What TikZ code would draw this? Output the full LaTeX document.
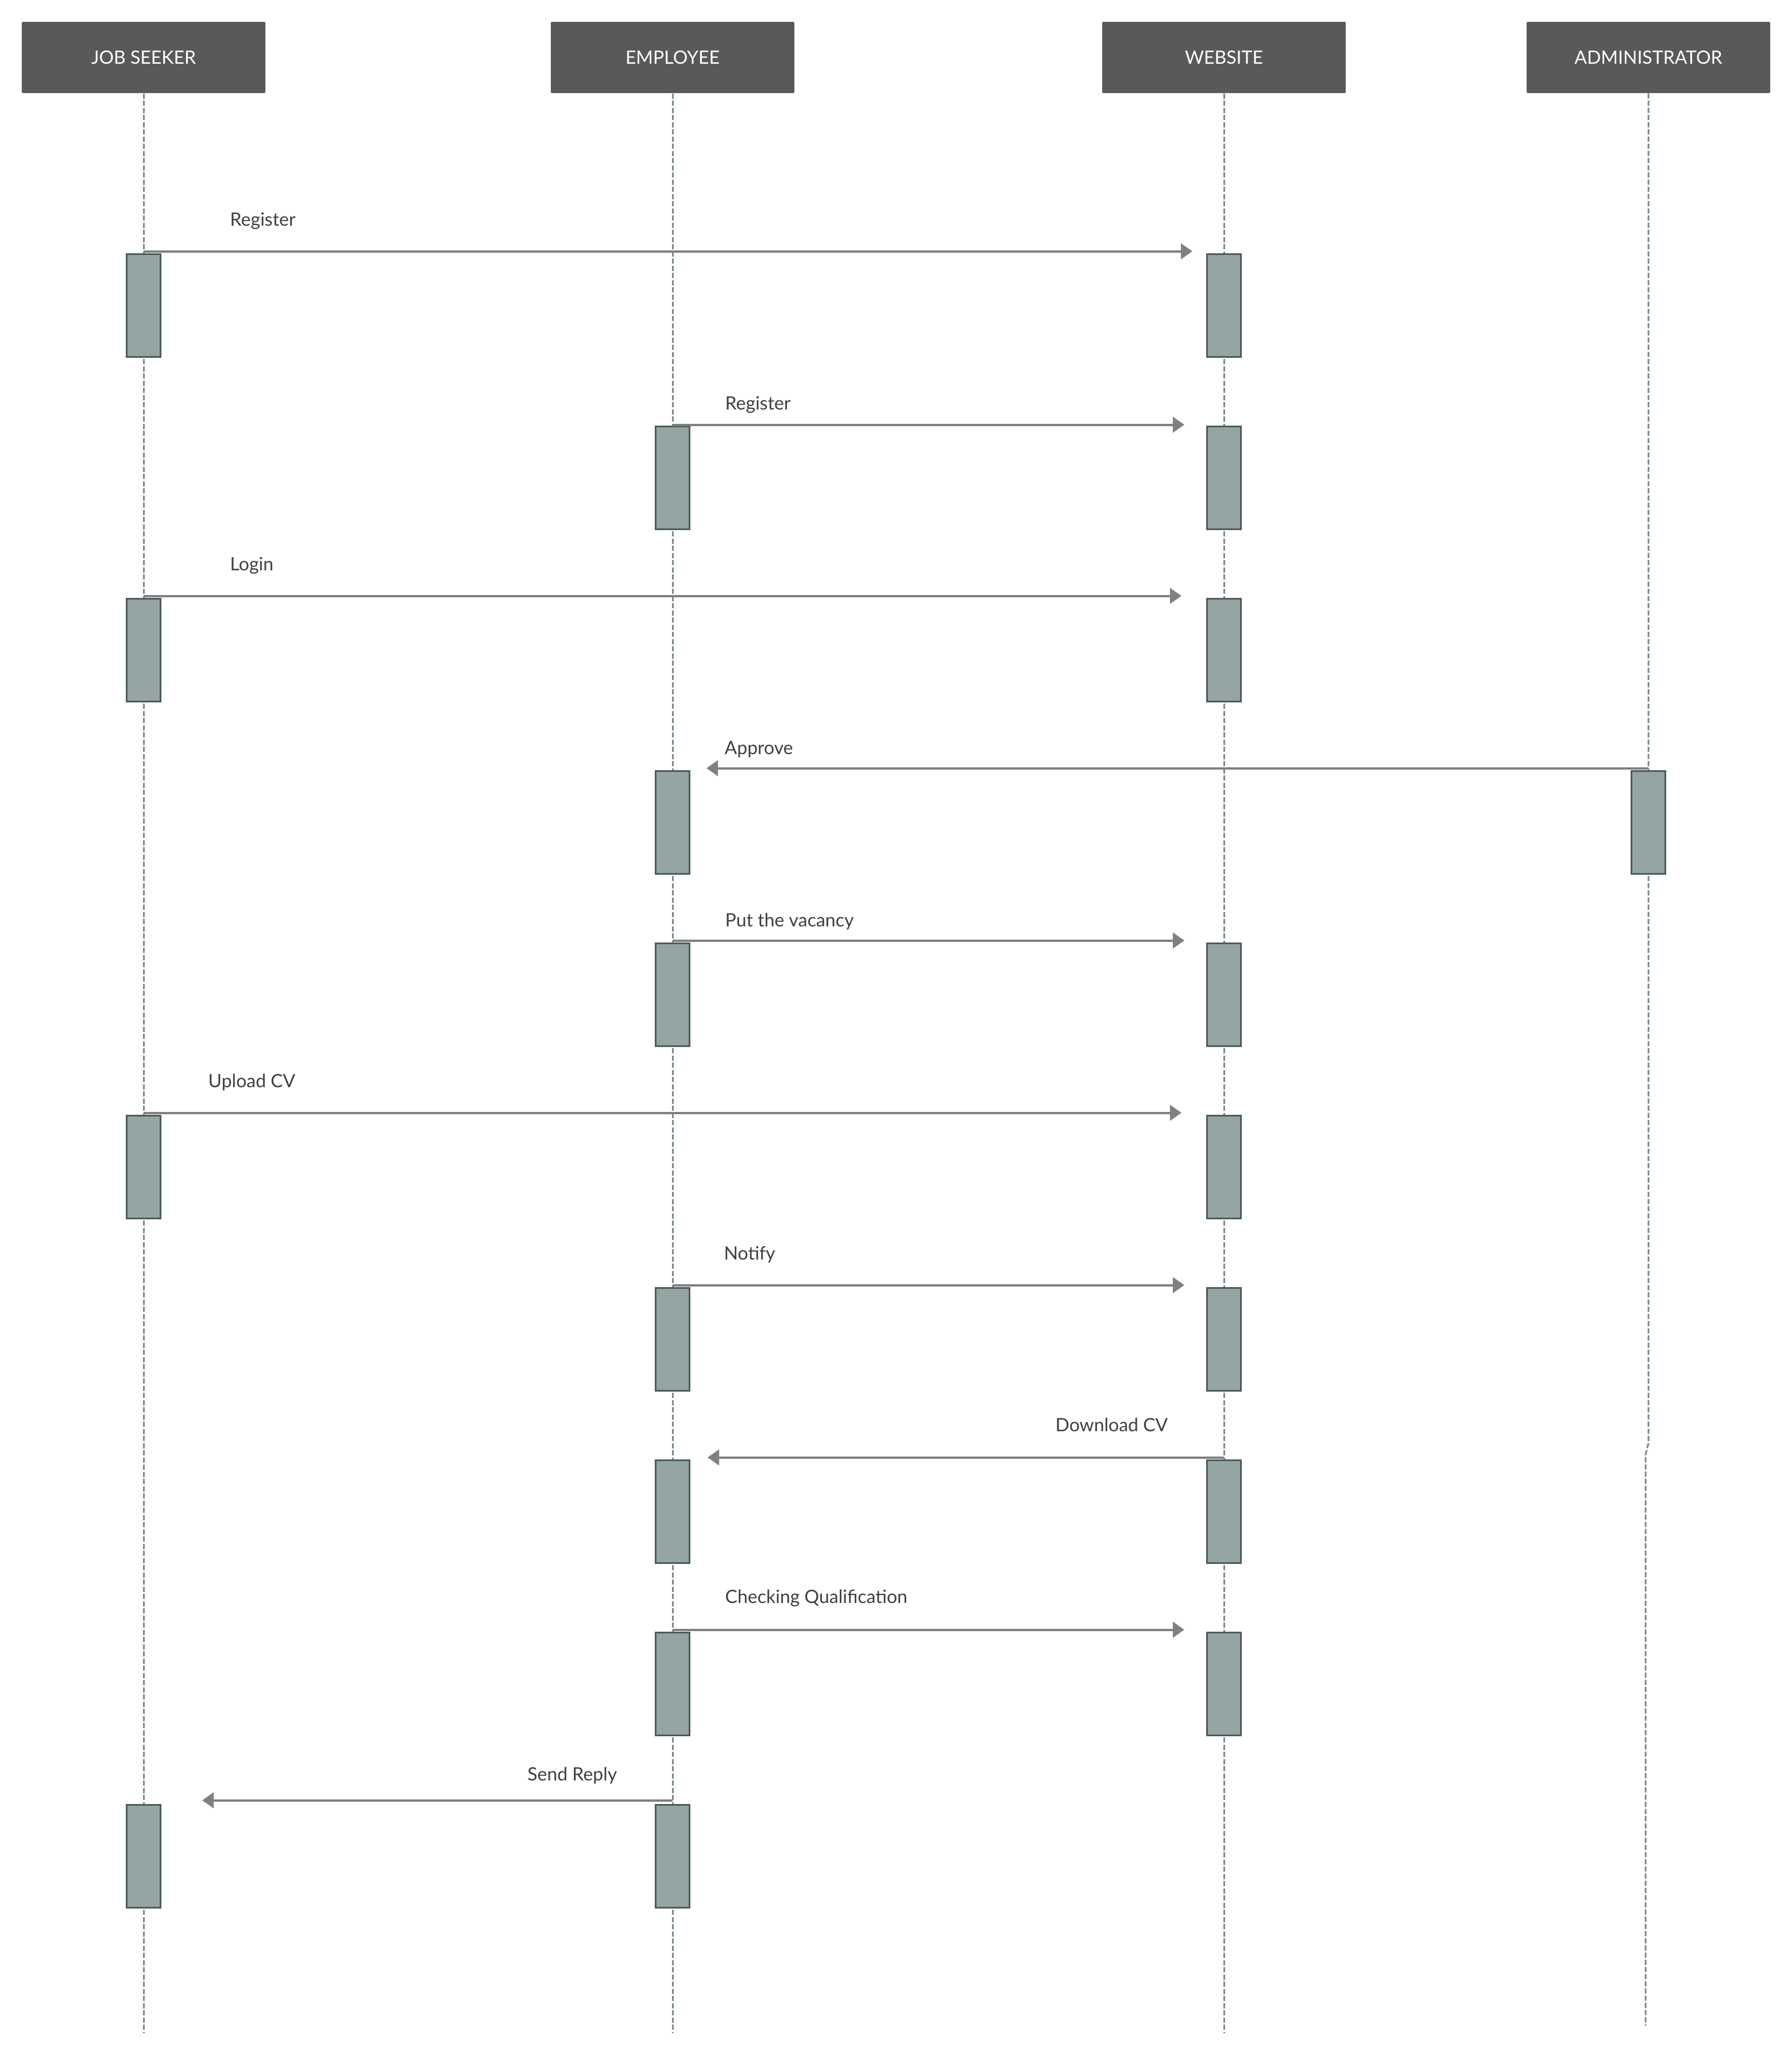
\documentclass[tikz,border=0pt]{standalone}
\usepackage{fontspec}
\setmainfont{Lato}
\usetikzlibrary{arrows.meta}
\definecolor{headgray}{HTML}{5B5957}
\definecolor{lifegray}{HTML}{7A8B8B}
\definecolor{barfill}{HTML}{95A5A3}
\definecolor{barline}{HTML}{4B5C5B}
\definecolor{msggray}{HTML}{808080}
\definecolor{lblgray}{HTML}{3F3F3F}

\begin{document}
\begin{tikzpicture}[
  head/.style={fill=headgray, text=white, minimum width=4.24cm, minimum height=1.24cm,
    inner sep=0pt, rounded corners=0.02cm, font=\fontsize{9.1}{11}\selectfont},
  life/.style={draw=lifegray, line width=0.03cm, dash pattern=on 0.09cm off 0.035cm},
  bar/.style={draw=barline, fill=barfill, line width=0.036cm, minimum width=0.59cm,
    minimum height=1.79cm, inner sep=0pt, anchor=north},
  msg/.style={draw=msggray, line width=0.04cm, -{Triangle[length=0.2cm,width=0.27cm]}},
  lbl/.style={text=lblgray, inner sep=0pt, font=\fontsize{9.1}{11}\selectfont}
]
   \useasboundingbox (0,0) rectangle (31.20,-35.78);

   % heads
   \node[head] (seeker) at (2.50,-1.00) {JOB SEEKER};
   \node[head] (employee) at (11.71,-1.00) {EMPLOYEE};
   \node[head] (website) at (21.31,-1.00) {WEBSITE};
   \node[head] (admin) at (28.70,-1.00) {ADMINISTRATOR};

   % lifelines
   \coordinate (seekerEnd) at (2.50,-35.40);
   \coordinate (employeeEnd) at (11.71,-35.40);
   \coordinate (websiteEnd) at (21.31,-35.40);
   \coordinate (adminBend) at (28.70,-25.13);
   \coordinate (adminStep) at (28.65,-25.33);
   \coordinate (adminEnd) at (28.65,-35.27);
   \draw[life] (seeker.south) -- (seekerEnd);
   \draw[life] (employee.south) -- (employeeEnd);
   \draw[life] (website.south) -- (websiteEnd);
   \draw[life] (admin.south) -- (adminBend) -- (adminStep) -- (adminEnd);

   % bars
   \node[bar] (s1) at (2.50,-4.405) {};
   \node[bar] (w1) at (21.31,-4.405) {};
   \node[bar] (e2) at (11.71,-7.405) {};
   \node[bar] (w2) at (21.31,-7.405) {};
   \node[bar] (s3) at (2.50,-10.405) {};
   \node[bar] (w3) at (21.31,-10.405) {};
   \node[bar] (e4) at (11.71,-13.405) {};
   \node[bar] (a4) at (28.70,-13.405) {};
   \node[bar] (e5) at (11.71,-16.405) {};
   \node[bar] (w5) at (21.31,-16.405) {};
   \node[bar] (s6) at (2.50,-19.405) {};
   \node[bar] (w6) at (21.31,-19.405) {};
   \node[bar] (e7) at (11.71,-22.405) {};
   \node[bar] (w7) at (21.31,-22.405) {};
   \node[bar] (e8) at (11.71,-25.405) {};
   \node[bar] (w8) at (21.31,-25.405) {};
   \node[bar] (e9) at (11.71,-28.405) {};
   \node[bar] (w9) at (21.31,-28.405) {};
   \node[bar] (s10) at (2.50,-31.405) {};
   \node[bar] (e10) at (11.71,-31.405) {};

   % messages
   \draw[msg] ([yshift=0.03cm]s1.north) -- ([xshift=-0.55cm,yshift=0.03cm]w1.north);
   \node[lbl, anchor=base west] (t1) at ([xshift=1.50cm,yshift=0.47cm]s1.north) {Register};

   \draw[msg] ([yshift=0.01cm]e2.north) -- ([xshift=-0.69cm,yshift=0.01cm]w2.north);
   \node[lbl, anchor=base west] (t2) at ([xshift=0.91cm,yshift=0.27cm]e2.north) {Register};

   \draw[msg] ([yshift=0.03cm]s3.north) -- ([xshift=-0.74cm,yshift=0.03cm]w3.north);
   \node[lbl, anchor=base west] (t3) at ([xshift=1.50cm,yshift=0.47cm]s3.north) {Login};

   \draw[msg] ([yshift=0.03cm]a4.north) -- ([xshift=0.59cm,yshift=0.03cm]e4.north);
   \node[lbl, anchor=base west] (t4) at ([xshift=0.90cm,yshift=0.27cm]e4.north) {Approve};

   \draw[msg] ([yshift=0.03cm]e5.north) -- ([xshift=-0.69cm,yshift=0.03cm]w5.north);
   \node[lbl, anchor=base west] (t5) at ([xshift=0.91cm,yshift=0.27cm]e5.north) {Put the vacancy};

   \draw[msg] ([yshift=0.03cm]s6.north) -- ([xshift=-0.74cm,yshift=0.03cm]w6.north);
   \node[lbl, anchor=base west] (t6) at ([xshift=1.12cm,yshift=0.47cm]s6.north) {Upload CV};

   \draw[msg] ([yshift=0.03cm]e7.north) -- ([xshift=-0.69cm,yshift=0.03cm]w7.north);
   \node[lbl, anchor=base west] (t7) at ([xshift=0.89cm,yshift=0.47cm]e7.north) {Notify};

   \draw[msg] ([yshift=0.03cm]w8.north) -- ([xshift=0.61cm,yshift=0.03cm]e8.north);
   \node[lbl, anchor=base east] (t8) at ([xshift=-0.97cm,yshift=0.48cm]w8.north) {Download CV};

   \draw[msg] ([yshift=0.03cm]e9.north) -- ([xshift=-0.69cm,yshift=0.03cm]w9.north);
   \node[lbl, anchor=base west] (t9) at ([xshift=0.91cm,yshift=0.49cm]e9.north) {Checking Qualification};

   \draw[msg] ([yshift=0.06cm]e10.north) -- ([xshift=1.02cm,yshift=0.06cm]s10.north);
   \node[lbl, anchor=base east] (t10) at ([xshift=-0.96cm,yshift=0.40cm]e10.north) {Send Reply};

\end{tikzpicture}
\end{document}
